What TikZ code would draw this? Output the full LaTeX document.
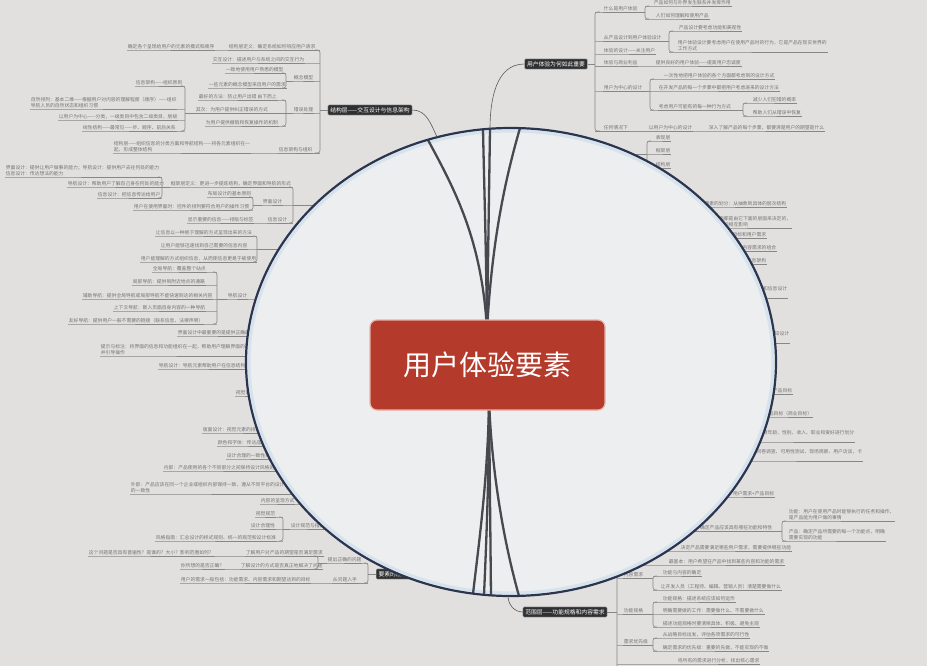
\documentclass[tikz,border=0pt]{standalone}
\usepackage{fontspec}
\setmainfont{Noto Sans CJK SC}
\definecolor{paper}{HTML}{E2E0DF}
\definecolor{lensfill}{HTML}{EDEEF0}
\definecolor{lensline}{HTML}{2B3550}
\definecolor{lensrim}{HTML}{D6E2EC}
\definecolor{spoke}{HTML}{46494D}
\definecolor{leafgray}{HTML}{747474}
\definecolor{linegray}{HTML}{878787}
\definecolor{topicfill}{HTML}{2E3031}
\definecolor{corered}{HTML}{B43A2B}
\definecolor{coreedge}{HTML}{E7B2A6}
\tikzset{
	leaf/.style={anchor=south west, inner sep=0.7pt, align=left, text=leafgray, font=\fontsize{4.8}{5.8}\selectfont},
	uline/.style={draw=linegray, line width=0.6pt},
	brk/.style={uline, rounded corners=2.5pt},
	topic/.style={fill=topicfill, draw=gray!60, line width=0.4pt, text=white, inner sep=2.4pt, rounded corners=1pt, font=\fontsize{5.8}{6.5}\selectfont},
	core/.style={fill=corered, draw=coreedge, line width=1.2pt, rounded corners=7pt, minimum width=235pt, minimum height=90pt, text=white, font=\fontsize{28}{32}\selectfont},
	spokeline/.style={draw=spoke, line width=2.3pt},
	stem/.style={draw=gray!70!black, line width=0.6pt}
}
\begin{document}
\begin{tikzpicture}[x=1pt,y=-1pt]
		\useasboundingbox (0,0) rectangle (927,666);
		\clip (0,0) rectangle (927,666);
		\fill[paper] (0,0) rectangle (927,666);
		
		% bracket ends
		\foreach \bk/\bx/\ya/\yb in {bA/320/50/153, bA3/286/73/88, bA4/286/100/126, bA5/185/86/131,
			bB0/162/177/198, bB1/293/187/223, bB2/253/197/210, bC1/257/236/262, bC2/217/272/324,
			bD7/283/517/541, bE/368/563/583, bE1/318/556/569,
			bF/595/12/131, bF1/645/6/19, bF2/669/31/52, bF5/650/79/110, bF53/743/103/116,
			bG1/647/141/168, bH/617/497/670, bH2/782/521/541, bH5/653/576/590, bH6/653/602/627, bH7/653/638/651,
			hL/350/0/0, hR/690/0/0, hG/600/0/0} {
			\coordinate (\bk-t) at (\bx,\ya);
			\coordinate (\bk-b) at (\bx,\yb);
		}
		
		% left side leaves
		\foreach \nm/\xx/\yy/\br/\tx in {
			A1b/127/50/bA/{确定各个呈现给用户的元素的模式和顺序},
			A1/228/50/bA/{结构层定义：确定系统如何响应用户请求},
			A2/212/63/bA/{交互设计：描述用户与系统之间的交互行为},
			A31/225/73/bA3/{一致地使用用户熟悉的模型},
			A32/208/88/bA3/{一些元素的概念模型来自用户的需求},
			A3/293/81/bA/{概念模型},
			A41/198/100/bA4/{最好的方法：防止用户出错 由下而上},
			A42/195/113/bA4/{其次：为用户提供纠正错误的方式},
			A43/205/126/bA4/{为用户提供撤销和恢复操作的机制},
			A4/293/113/bA/{错误处理},
			A51/135/86/bA5/{信息架构——组织原则},
			A52/30/109/bA5/{自然排列：基本二维——根据用户对内容的理解程度（顺序）——组织\\导航人员的自然状态和组织习惯},
			A53/58/120/bA5/{以用户为中心——分类，一级类目中包含二级类目，层级},
			A54/82/131/bA5/{线性结构——最常见——步、顺序、前后关系},
			A6b/113/153/bA/{结构层——组织信息的分类方案和导航结构——将各元素组织在一\\起，形成整体结构},
			A6/278/153/bA/{信息架构与组织},
			B0/5/177/bB0/{界面设计：提供让用户做事的能力；导航设计：提供用户去往何处的能力\\信息设计：传达想法的能力},
			B01/67/187/bB0/{导航设计：帮助用户了解自己身在何处的能力},
			B02/97/198/bB0/{信息设计：把信息传达给用户},
			B1/170/187/bB1/{框架层定义：更进一步提炼结构，确定界面和导航的形式},
			B21/207/197/bB2/{布局设计的基本原则},
			B22/133/210/bB2/{用户在使用界面时：控件的排列要符合用户的操作习惯},
			B2/262/205/bB1/{界面设计},
			B3b/187/223/bB1/{显示重要的信息——排版与标签},
			B3/267/223/bB1/{信息设计},
			C11/155/236/bC1/{让信息以一种易于理解的方式呈现出来的方法},
			C12/160/249/bC1/{让用户能够迅速找到自己需要的信息内容},
			C13/140/262/bC1/{用户能理解的方式组织信息，从而使信息更易于被使用},
			C21/152/272/bC2/{全局导航：覆盖整个站点},
			C22/132/285/bC2/{局部导航：提供到附近地点的通路},
			C23/82/299/bC2/{辅助导航：提供全局导航或局部导航不能快速到达的相关内容},
			C24/113/311/bC2/{上下文导航：嵌入页面自身内容的一种导航},
			C25/68/324/bC2/{友好导航：提供用户一般不需要的链接（联系信息、法律声明）},
			C2/227/299/hL/{导航设计},
			C3/177/336/hL/{界面设计中最重要的是提供正确的选择},
			C4/100/356/hL/{提示与标注：将界面的信息和功能组织在一起，帮助用户理解界面的功能\\并引导操作},
			C5/158/369/hL/{导航设计：导航元素帮助用户在信息结构中移动},
			C6/235/396/hL/{视觉设计},
			D1/202/433/hL/{版面设计：视觉元素的排列和组织方式},
			D2/217/446/hL/{颜色和字体：传达品牌的形象},
			D3/226/459/hL/{设计合理的一致性规范},
			D4/163/471/hL/{内部：产品使用的各个不同部分之间保持设计风格的一致},
			D5/130/494/hL/{外部：产品应该在同一个企业或组织内部保持一致，遵从不同平台的设计规范\\的一致性},
			D6/260/504/hL/{内容的呈现方式},
			D71/255/517/bD7/{视觉规范},
			D72/250/529/bD7/{设计合理性},
			D73/155/541/bD7/{风格指南：汇总设计的样式规则、统一的规范和设计标准},
			D7/290/529/hL/{设计规范与指南},
			E11b/88/556/bE1/{这个问题是否具有普遍性？是谁的？大小？影响范围如何？},
			E11/245/556/bE1/{了解用户对产品的期望是否满足需求},
			E12b/180/569/bE1/{你所想的是否正确？},
			E12/240/569/bE1/{了解设计的方式是否真正地解决了问题},
			E1/327/563/bE/{提出正确的问题},
			E2b/180/583/bE/{用户的需求一般包括：功能需求、内容需求和期望达到的目标},
			E2/332/583/bE/{从问题入手}} {
			\node[leaf] (\nm) at (\xx,\yy) {\tx};
			\draw[uline] (\nm.south west -| \br-t) -- (\nm.south west) -- (\nm.south east);
		}
		
		% right side leaves
		\foreach \nm/\xx/\yy/\br/\tx in {
			F1/603/12/bF/{什么是用户体验},
			F11/653/6/bF1/{产品如何与外界发生联系并发挥作用},
			F12/655/19/bF1/{人们如何理解和使用产品},
			F2/603/41/bF/{从产品设计到用户体验设计},
			F21/678/31/bF2/{产品设计要考虑功能和美观性},
			F22/677/52/bF2/{用户体验设计要考虑用户在使用产品时的行为，它是产品在现实世界的\\工作方式},
			F3/603/54/bF/{体验的设计——关注用户},
			F4/603/66/bF/{体验与商业利益},
			F4b/655/66/bF/{提供良好的用户体验——提高用户忠诚度},
			F5/603/91/bF/{用户为中心的设计},
			F51/663/79/bF5/{一次性地把用户体验的各个方面都考虑到的设计方式},
			F52/658/91/bF5/{在开发产品的每一个步骤中都把用户考虑进来的设计方法},
			F53/658/110/bF5/{考虑用户可能有的每一种行为方式},
			F531/752/103/bF53/{减少人们犯错的概率},
			F532/752/116/bF53/{帮助人们从错误中恢复},
			F6/603/131/bF/{任何情况下},
			F6b/648/131/bF/{以用户为中心的设计},
			F6c/708/131/bF/{深入了解产品的每个步骤，都要清楚用户的期望是什么},
			G1a/655/141/bG1/{表现层},
			G1b/655/154/bG1/{框架层},
			G1c/655/168/bG1/{结构层},
			H21/788/521/bH2/{功能：用户在使用产品时能够执行的任务和操作，\\是产品能为用户做的事情},
			H22/788/541/bH2/{产品：确定产品所需要的每一个功能点，明确\\需要实现的功能},
			H5/623/578/bH/{内容需求},
			H51/662/576/bH5/{功能与内容的确定},
			H52/660/590/bH5/{让开发人员（工程师、编辑、营销人员）清楚需要做什么},
			H6/623/614/bH/{功能规格},
			H61/662/602/bH6/{功能规格：描述系统应该如何运作},
			H62/662/614/bH6/{明确需要做的工作：需要做什么、不需要做什么},
			H63/662/627/bH6/{描述功能规格时要清晰具体、积极、避免主观},
			H7/623/645/bH/{需求优先级},
			H71/662/638/bH7/{从战略目标出发，评估各项需求的可行性},
			H72/662/651/bH7/{确定需求的优先级：重要的先做，不能实现的不做},
			H8/677/664/bH/{将所有的需求进行分析，找出核心需求}} {
			\node[leaf] (\nm) at (\xx,\yy) {\tx};
			\draw[uline] (\nm.south west -| \br-t) -- (\nm.south west) -- (\nm.south east);
		}
		
		% leaves whose start sits under the lens
		\foreach \nm/\xx/\yy/\br/\tx in {
			G2/787/207/hR/{用户体验要素的划分：从抽象到具体的层次结构},
			G3/792/228/hR/{每个层面都是由它下面的层面来决定的，\\各层面之间相互影响},
			G4/767/238/hR/{战略层：产品目标和用户需求},
			G5/777/251/hR/{范围层：功能规格和内容需求的组合},
			G6/767/264/hR/{结构层：交互设计与信息架构},
			G7/788/298/hR/{框架层：界面设计、导航设计和信息设计\\与用户交互},
			G8/790/343/hR/{表现层：视觉设计，感知设计\\最终的外观},
			G9/793/394/hR/{战略层：明确用户需求和产品目标},
			G10/813/417/hR/{产品目标（商业目标）},
			G11/855/442/hR/{用户细分：按照年龄、性别、收入、职业和爱好进行划分\\用户的类别},
			G12/863/461/hR/{用户研究：问卷调查、可用性测试、现场观察、用户访谈、卡\\片分类等},
			G13/775/497/bH/{战略层：用户需求+产品目标},
			H2/773/531/bH/{范围层：确定产品应该具有哪些功能和特性},
			H3/792/551/bH/{决定产品需要满足哪些用户需求，需要提供哪些功能},
			H4/785/565/bH/{最基本：用户希望在产品中找到某些内容和功能的需求}} {
			\node[leaf, anchor=south east] (\nm) at (\xx,\yy) {\tx};
			\draw[uline] (\nm.south west -| \br-t) -- (\nm.south west) -- (\nm.south east);
		}
		
		% parents reaching their own brackets
		\foreach \nm/\br in {A3/bA3, A4/bA5, B1/bB0, B2/bB2, C2/bC2, D7/bD7, E1/bE1,
			F1/bF1, F2/bF2, F5/bF5, F53/bF53, H2/bH2, H5/bH5, H6/bH6, H7/bH7} {
			\draw[uline] (\nm.south west) -- (\nm.south west -| \br-t);
		}
		\draw[uline] (B2.south west -| bB1-t) -- (B2.south west -| hL-t);
		\draw[uline] (C12.south west -| bC1-t) -- (C12.south west -| hL-t);
		\draw[uline] (G1b.south west -| bG1-t) -- (G1b.south west -| hG-t);
		
		% brackets
		\foreach \bk/\s in {bA/-5, bA3/-4, bA4/-4, bA5/-4, bB0/-4, bB1/-4, bB2/-4, bC1/-4, bC2/-4,
			bD7/-4, bE/-4, bE1/-4, bF/5, bF1/4, bF2/4, bF5/4, bF53/4, bG1/4, bH/4, bH2/4, bH5/4, bH6/4, bH7/4} {
			\draw[brk] ([xshift=\s pt]\bk-t) -- (\bk-t) -- (\bk-b) -- ([xshift=\s pt]\bk-b);
		}
		
		% main topics
		\node[topic] (K1) at (370,110) {结构层——交互设计与信息架构};
		\node[topic] (K2) at (556,64) {用户体验为何如此重要};
		\node[topic] (K3) at (565,612) {范围层——功能规格和内容需求};
		\node[topic, anchor=west] (K4) at (376,574) {要素的应用};
		\draw[uline] (K1.west) -- (K1.west -| bA-t);
		\draw[uline] (K2.east) -- (K2.east -| bF-t);
		\draw[uline] (K3.east) -- (K3.east -| bH-t);
		\draw[uline] (K4.west) -- (K4.west -| bE-t);
		
		% the lens
		\fill[lensfill] (511,362) ellipse [x radius=265pt, y radius=234pt];
		\draw[lensrim, line width=3pt] (511,362) ellipse [x radius=262pt, y radius=231pt];
		
		\coordinate (hubT) at (487,330);
		\coordinate (hubB) at (489,400);
		\coordinate (s1) at (428,140);
		\coordinate (s2) at (483,129);
		\coordinate (s3) at (490,129);
		\coordinate (s4) at (520,128);
		\coordinate (u1) at (473,594);
		\coordinate (u2) at (484,595);
		\coordinate (u3) at (491,596);
		\coordinate (u4) at (519,596);
		\draw[spokeline] (hubT) .. controls (482,240) and (455,190) .. (s1);
		\draw[spokeline] (hubT) .. controls (486,240) and (484,180) .. (s2);
		\draw[spokeline] (hubT) -- (s3);
		\draw[spokeline] (hubT) .. controls (492,240) and (505,180) .. (s4);
		\draw[spokeline] (hubB) .. controls (488,480) and (478,550) .. (u1);
		\draw[spokeline] (hubB) .. controls (489,480) and (486,550) .. (u2);
		\draw[spokeline] (hubB) -- (u3);
		\draw[spokeline] (hubB) .. controls (492,480) and (506,550) .. (u4);
		
		\draw[lensline, line width=2.2pt] (511,362) ellipse [x radius=265pt, y radius=234pt];
		
		\node[core] (core) at (487.5,365) {用户体验要素};
		
		% stems out of the lens
		\coordinate (t1) at (437,137);
		\coordinate (t2) at (490,129);
		\coordinate (t3) at (508,596);
		\draw[stem] (K1.east) to[out=0, in=115] (t1);
		\draw[stem] (t2) to[out=90, in=180] (K2.west);
		\draw[stem] (t3) to[out=-90, in=180] (K3.west);
	\end{tikzpicture}
\end{document}
